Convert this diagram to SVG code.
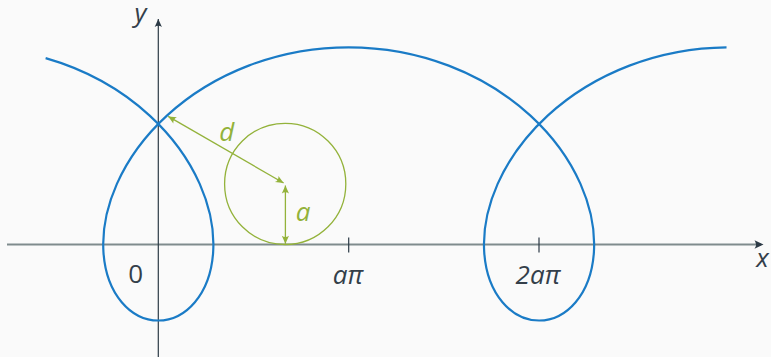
<svg xmlns="http://www.w3.org/2000/svg" width="771" height="357" viewBox="0 0 771 357">
<defs>
<style>
.lbl{font-family:"Open Sans","Noto Sans","Liberation Sans",sans-serif;font-size:26px;fill:#343f4a;text-anchor:middle}
.it{font-style:italic}
.gl{fill:#93b23a}
.ax{stroke:#2c3a46;stroke-width:1.2;fill:none}
.gr{stroke:#93b23a;stroke-width:1.3;fill:none}
</style>
<marker id="ad" viewBox="-10 -5 11 10" refX="0" refY="0" markerWidth="11" markerHeight="10" markerUnits="userSpaceOnUse" orient="auto-start-reverse">
<path d="M0,0 L-8,-3.6 Q-5.5,0 -8,3.6 Z" fill="#2c3a46"/>
</marker>
<marker id="ag" viewBox="-10 -5 11 10" refX="0" refY="0" markerWidth="11" markerHeight="10" markerUnits="userSpaceOnUse" orient="auto-start-reverse">
<path d="M0,0 L-8,-3.6 Q-5.5,0 -8,3.6 Z" fill="#93b23a"/>
</marker>
</defs>
<rect x="0" y="0" width="771" height="357" fill="#fafafa"/>
<g id="axes">
<line x1="7" y1="244.5" x2="761" y2="244.5" stroke="#7f8b8d" stroke-width="2"/>
<path d="M763.5,244.5 L754.5,240.2 Q757.5,244.5 754.5,248.8 Z" fill="#2c3a46"/>
<line class="ax" x1="158.3" y1="357" x2="158.3" y2="19" marker-end="url(#ad)"/>
<line class="ax" x1="348.7" y1="237.5" x2="348.7" y2="252.5"/>
<line class="ax" x1="539" y1="237.5" x2="539" y2="252.5"/>
</g>
<g id="circle">
<circle class="gr" cx="285.2" cy="183.9" r="60.6"/>
</g>
<g id="curve">
<path fill="none" stroke="#1a7bc6" stroke-width="2.2" d="M45.62,58.15 C85.72,69.63 121.94,90.14 149.68,115.6 C172.18,136.25 189.13,160.06 199.71,183.9 C210.29,207.74 214.48,231.55 213.14,252.2 C211.80,272.85 204.94,290.28 194.87,302.2 C184.80,314.12 171.56,320.5 158.3,320.5 C145.04,320.5 131.80,314.12 121.73,302.2 C111.66,290.28 104.80,272.85 103.46,252.2 C102.12,231.55 106.31,207.74 116.89,183.9 C127.47,160.06 144.42,136.25 166.92,115.6 C189.42,94.95 217.43,77.52 248.65,65.6 C279.87,53.68 314.26,47.3 348.68,47.3 C383.10,47.3 417.49,53.68 448.71,65.6 C479.93,77.52 507.94,94.95 530.44,115.6 C552.94,136.25 569.89,160.06 580.47,183.9 C591.05,207.74 595.24,231.55 593.90,252.2 C592.56,272.85 585.70,290.28 575.63,302.2 C565.56,314.12 552.32,320.5 539.06,320.5 C525.80,320.5 512.56,314.12 502.49,302.2 C492.42,290.28 485.56,272.85 484.22,252.2 C482.88,231.55 487.07,207.74 497.65,183.9 C508.23,160.06 525.18,136.25 547.68,115.6 C570.18,94.95 598.19,77.52 629.41,65.6 C659.75,54.02 693.09,47.66 726.53,47.32"/>
</g>
<g id="connectors">
<line class="gr" x1="283.6" y1="183" x2="168.2" y2="116.4" marker-start="url(#ag)" marker-end="url(#ag)"/>
<line class="gr" x1="285.4" y1="185.5" x2="285.4" y2="243.8" marker-start="url(#ag)" marker-end="url(#ag)"/>
</g>
<g id="labels">
<text class="lbl" x="135.7" y="282.5">0</text>
<text class="lbl it" x="348" y="283.5">aπ</text>
<text class="lbl it" x="538" y="284">2aπ</text>
<text class="lbl it" x="762.5" y="267">x</text>
<text class="lbl it" x="140.5" y="21.5">y</text>
<text class="lbl it gl" x="226.7" y="140.7">d</text>
<text class="lbl it gl" x="303" y="220.7">a</text>
</g>
</svg>
